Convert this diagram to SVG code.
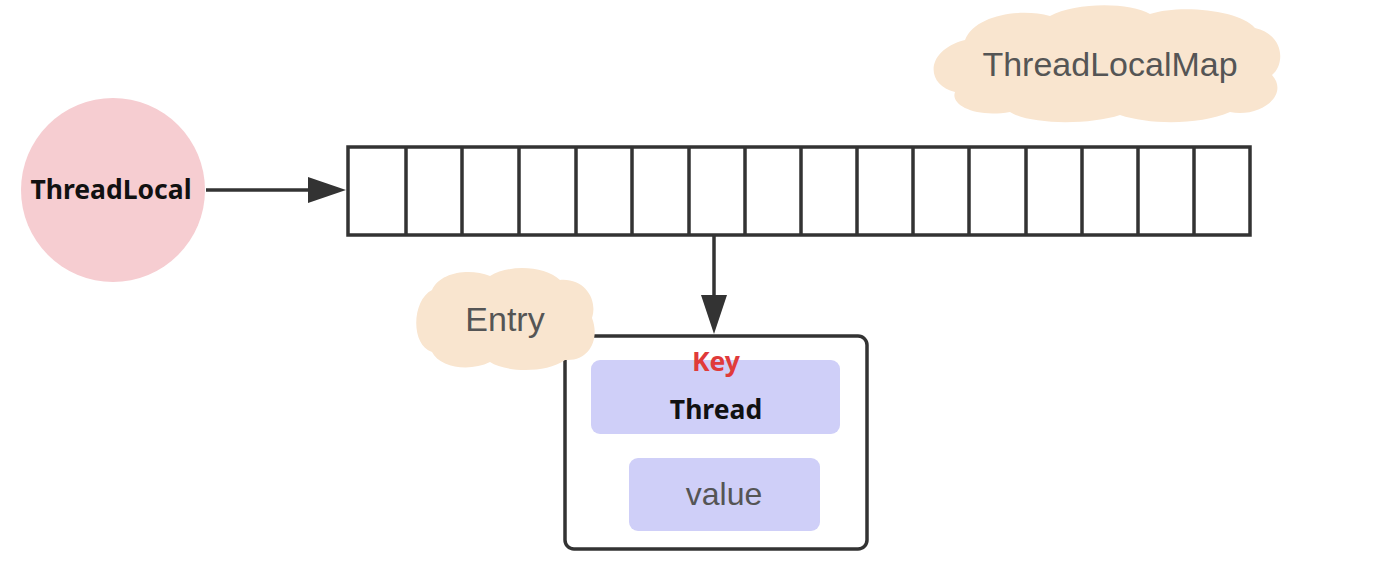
<svg xmlns="http://www.w3.org/2000/svg" width="1400" height="574" viewBox="0 0 1400 574">
<style>
.cell{fill:#fff;stroke:#333;stroke-width:3.5}
.cloud{fill:#f9e5cf}
.lbl{font-family:"Liberation Sans",Arial,sans-serif;font-size:34px;fill:#555;text-anchor:middle;dominant-baseline:central}
.bold{font-family:"Noto Sans","Open Sans",sans-serif;font-weight:bold;text-anchor:middle;dominant-baseline:central;font-size:26.5px}
.conn{stroke:#333;stroke-width:3.5;fill:none}
.inner{fill:#cfcff8}
</style>
<rect width="1400" height="574" fill="#fff"/>
<g id="connectors">
<line class="conn" x1="206" y1="190" x2="312" y2="190"/>
<path d="M308,177 L346,190 L308,203 Z" fill="#333"/>
<line class="conn" x1="714" y1="236" x2="714" y2="298"/>
<path d="M701,295 L714,334 L727,295 Z" fill="#333"/>
</g>
<g id="threadlocal">
<circle cx="113" cy="190" r="92" fill="#f6cdd1"/>
<text class="bold" x="111" y="189" fill="#111">ThreadLocal</text>
</g>
<g id="threadlocalmap-label">
<path class="cloud" d="M965,40 C975,15 1020,8 1050,16 C1075,2 1130,2 1150,14 C1180,4 1240,10 1255,28 C1285,35 1285,65 1272,75 C1290,95 1260,118 1230,112 C1200,125 1150,125 1120,115 C1090,125 1030,125 1010,112 C975,118 950,105 955,92 C925,85 925,50 965,40 Z"/>
<text class="lbl" x="1110" y="64">ThreadLocalMap</text>
</g>
<g id="array">
<rect class="cell" x="348" y="147" width="902" height="88"/>
<path class="conn" d="M406,147V235 M462,147V235 M519,147V235 M576,147V235 M632,147V235 M689,147V235 M745,147V235 M801,147V235 M857,147V235 M913,147V235 M969,147V235 M1026,147V235 M1082,147V235 M1138,147V235 M1194,147V235"/>
</g>
<g id="entry">
<rect x="565" y="336" width="302" height="213" rx="9" fill="#fff" stroke="#333" stroke-width="3.5"/>
<rect class="inner" x="591" y="360" width="249" height="74" rx="9"/>
<text class="bold" x="716" y="361" fill="#e03a3a">Key</text>
<text class="bold" x="716" y="409" fill="#111">Thread</text>
<rect class="inner" x="629" y="458" width="191" height="73" rx="9"/>
<text class="lbl" x="724" y="494" style="font-size:32px">value</text>
</g>
<g id="entry-label">
<path class="cloud" d="M432,290 C440,272 470,268 490,276 C510,264 545,266 560,280 C585,278 598,300 592,318 C600,338 590,362 565,360 C545,374 505,372 490,362 C470,372 440,368 432,352 C410,345 412,300 432,290 Z"/>
<text class="lbl" x="505" y="319">Entry</text>
</g>
</svg>
